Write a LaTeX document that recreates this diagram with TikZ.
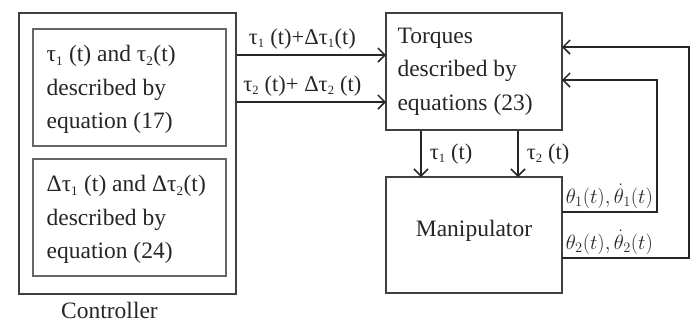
\documentclass[tikz,border=0pt]{standalone}
\usepackage{fontspec}
\setmainfont{Liberation Serif}
\usetikzlibrary{arrows.meta}

\tikzset{
  box/.style={draw=black!75, line width=1.3pt, inner sep=0pt},
  inbox/.style={draw=black!60, line width=1.1pt, inner sep=0pt},
  big/.style={font=\fontsize{23.5}{33.5}\selectfont, text=black!85},
  lbl/.style={font=\fontsize{22.5}{24}\selectfont, text=black!85},
  sig/.style={font=\fontsize{20.5}{22}\selectfont, text=black!85},
  wire/.style={draw=black!85, line width=1.5pt},
}
\newcommand{\sbs}[1]{\textsubscript{\scalebox{0.8}{#1}}}

\begin{document}
\begin{tikzpicture}[x=1pt,y=-1pt,
  >={Straight Barb[length=7pt,width=14pt]}]
\useasboundingbox (0,0) rectangle (697,325);

% controller
\node[box, minimum width=217pt, minimum height=281pt] (ctrl) at (127.5,153.5) {};
\node[inbox, minimum width=193pt, minimum height=117pt] (eqA) at (129.5,87.5) {};
\node[big, align=left, inner sep=0pt, anchor=west, xshift=14pt, yshift=-2pt] (eqAtxt) at (eqA.west)
  {τ\sbs{1} (t) and τ\sbs{2}(t)\\described by\\equation (17)};
\node[inbox, minimum width=193pt, minimum height=117pt] (eqB) at (129.5,217.5) {};
\node[big, align=left, inner sep=0pt, anchor=west, xshift=14pt, yshift=-2pt] (eqBtxt) at (eqB.west)
  {Δτ\sbs{1} (t) and Δτ\sbs{2}(t)\\described by\\equation (24)};
\node[big, anchor=north, xshift=-18pt, yshift=-4pt] (ctrllbl) at (ctrl.south) {Controller};

% plant side
\node[box, minimum width=176pt, minimum height=117pt] (torq) at (474,71.5) {};
\node[big, align=left, inner sep=0pt, anchor=west, xshift=12pt] (torqtxt) at (torq.west)
  {Torques\\described by\\equations (23)};
\node[box, minimum width=176pt, minimum height=116pt] (manip) at (474,235) {};
\node[big, yshift=4pt] (maniptxt) at (manip) {Manipulator};

\coordinate (in1) at (386,55);
\coordinate (in2) at (386,102);
\coordinate (d1) at (421,177);
\coordinate (d2) at (518,177);
\coordinate (o1) at (562,212);
\coordinate (o2) at (562,258);
\coordinate (i1) at (562,80);
\coordinate (i2) at (562,47);

\draw[wire,->] (ctrl.east |- in1) -- node[lbl, pos=0.44, anchor=south, inner sep=5pt]
  {τ\sbs{1} (t)+Δτ\sbs{1}(t)} (in1);
\draw[wire,->] (ctrl.east |- in2) -- node[lbl, pos=0.44, anchor=south, inner sep=5pt]
  {τ\sbs{2} (t)+ Δτ\sbs{2} (t)} (in2);

\draw[wire,->] (torq.south -| d1) -- node[lbl, right, inner sep=8pt] {τ\sbs{1} (t)} (d1);
\draw[wire,->] (torq.south -| d2) -- node[lbl, right, inner sep=8pt] {τ\sbs{2} (t)} (d2);

\draw[wire,->] (o1) -- node[sig, pos=0, anchor=south west, inner sep=3pt]
  {$\theta_1(t), \dot{\theta}_1(t)$} ++(95,0) |- (i1);
\draw[wire,->] (o2) -- node[sig, pos=0, anchor=south west, inner sep=3pt]
  {$\theta_2(t), \dot{\theta}_2(t)$} ++(127,0) |- (i2);
\end{tikzpicture}
\end{document}
